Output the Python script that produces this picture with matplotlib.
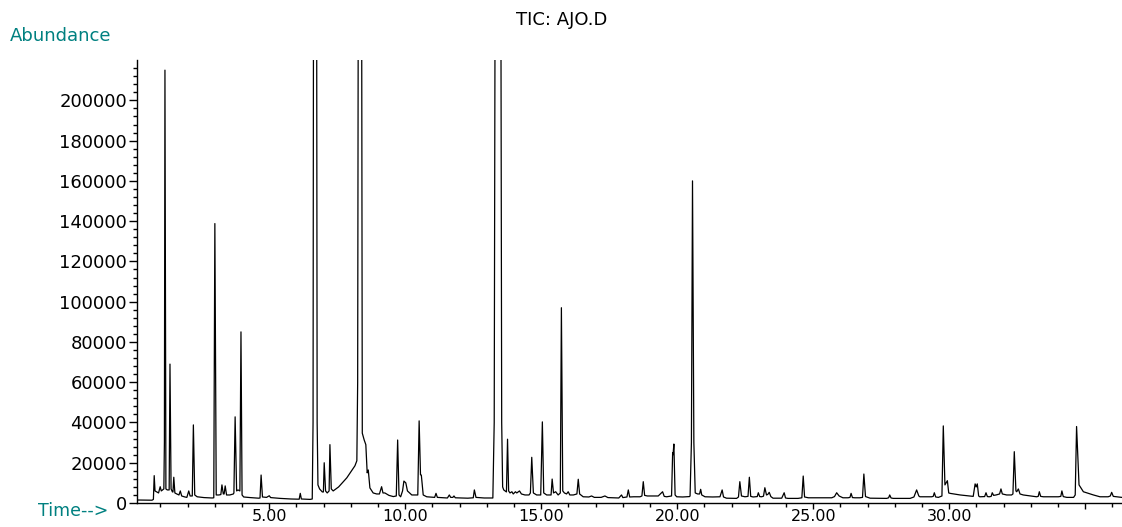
import numpy as np
import matplotlib
matplotlib.use("Agg")
import matplotlib.pyplot as plt
from matplotlib.ticker import FixedLocator

# TIC trace: retention time (min) and abundance
time_min = [
    0.125, 0.69, 0.74, 0.77, 0.80, 0.85, 0.93, 0.99, 1.03, 1.08,
    1.125, 1.145, 1.165, 1.20, 1.25, 1.32, 1.35, 1.39, 1.44, 1.46, 1.49, 1.53,
    1.60, 1.68, 1.73, 1.78, 1.90, 1.97, 2.04, 2.09, 2.17, 2.21, 2.26, 2.35, 2.60, 2.90, 2.96,
    3.00, 3.05, 3.15, 3.22, 3.26, 3.31, 3.34, 3.38, 3.43, 3.55, 3.68, 3.70, 3.745, 3.80, 3.85,
    3.92, 3.96, 4.00, 4.06, 4.30, 4.61, 4.66, 4.70, 4.75, 4.90, 5.00, 5.05, 5.40, 5.80,
    6.10, 6.14, 6.18, 6.50, 6.58,
    6.61, 6.625, 6.685, 6.745, 6.76, 6.79, 6.85, 6.95, 6.99, 7.02, 7.07, 7.13, 7.20, 7.23,
    7.28, 7.35, 7.45, 7.55, 7.65, 7.75, 7.85, 7.95, 8.05, 8.15, 8.22,
    8.25, 8.27, 8.335, 8.40, 8.415, 8.42, 8.49, 8.55, 8.60, 8.64, 8.70, 8.82, 8.95, 9.05,
    9.13, 9.18, 9.25, 9.40, 9.56, 9.67, 9.72, 9.77, 9.83, 9.90, 9.95, 10.02, 10.08, 10.24,
    10.46, 10.51, 10.56, 10.59, 10.66, 10.79, 11.08, 11.13, 11.18, 11.55, 11.62, 11.67,
    11.75, 11.79, 11.84, 12.30, 12.50, 12.54, 12.60, 12.90, 13.20,
    13.22, 13.27, 13.30, 13.41, 13.52, 13.545, 13.58,
    13.62, 13.72, 13.76, 13.80, 13.85, 13.92, 13.97, 14.05, 14.10, 14.20, 14.27, 14.40, 14.55,
    14.60, 14.65, 14.71, 14.83, 14.98, 15.04, 15.09, 15.20, 15.36, 15.40, 15.45, 15.53,
    15.62, 15.70, 15.74, 15.79, 15.85, 15.93, 15.99, 16.05, 16.18, 16.31, 16.36, 16.41,
    16.54, 16.75, 16.85, 16.95, 17.20, 17.34, 17.45, 17.85, 17.95, 18.00, 18.15, 18.20,
    18.25, 18.40, 18.63, 18.70, 18.75, 18.80, 18.90, 19.30, 19.46, 19.52, 19.61, 19.79,
    19.83, 19.845, 19.875, 19.92, 19.98, 20.20, 20.45, 20.47, 20.52, 20.56, 20.61, 20.66,
    20.75, 20.82, 20.86, 20.90, 21.02, 21.30, 21.57, 21.65, 21.70, 21.81, 22.18, 22.25,
    22.30, 22.36, 22.49, 22.60, 22.65, 22.70, 22.79, 22.94, 22.98, 23.03, 23.10, 23.17,
    23.22, 23.28, 23.33, 23.38, 23.44, 23.52, 23.84, 23.93, 23.98, 24.07, 24.44, 24.58,
    24.63, 24.68, 24.82, 25.30, 25.68, 25.78, 25.86, 25.95, 26.09, 26.28, 26.35, 26.39,
    26.44, 26.53, 26.71, 26.81, 26.86, 26.92, 27.09, 27.70, 27.77, 27.81, 27.86, 27.94,
    28.56, 28.70, 28.80, 28.88, 28.92, 29.35, 29.41, 29.45, 29.50, 29.60, 29.73, 29.78,
    29.84, 29.93, 29.98, 30.03, 30.40, 30.88, 30.95, 30.99, 31.03, 31.08, 31.12, 31.30,
    31.35, 31.40, 31.47, 31.54, 31.58, 31.63, 31.72, 31.85, 31.90, 31.95, 32.11, 32.29,
    32.34, 32.39, 32.45, 32.48, 32.54, 32.60, 32.72, 33.21, 33.27, 33.31, 33.36, 33.46,
    34.01, 34.10, 34.14, 34.19, 34.32, 34.57, 34.63, 34.68, 34.77, 34.93, 35.30, 35.54,
    35.84, 35.92, 35.97, 36.03, 36.15, 36.34,
]
abundance = [
    1500, 1400, 1800, 13600, 6000, 5600, 5000, 8100, 6000, 6500,
    7000, 30000, 215000, 7000, 6500, 6500, 69000, 7000, 5500, 5500, 12800, 5000,
    4500, 4000, 6000, 3500, 3000, 2800, 6000, 3500, 3500, 38800, 4000, 3100, 2700, 2500, 2600,
    138800, 4000, 4000, 4200, 9000, 4500, 4500, 8500, 4000, 4000, 4500, 5000, 42800, 6000, 6500,
    6000, 85000, 4000, 3000, 2700, 2400, 2500, 13900, 3000, 2800, 3600, 2700, 2300, 2000,
    1900, 4800, 2000, 1800, 2000,
    40000, 220000, 2000000, 220000, 40000, 9000, 7000, 5500, 5500, 20000, 6000, 5000, 6000, 29000,
    7000, 6000, 7000, 8000, 9500, 11000, 12500, 14500, 16500, 18500, 21000,
    60000, 220000, 2000000, 220000, 60000, 34700, 31300, 29000, 15000, 16400, 7500, 5000, 4500, 4500,
    8100, 5000, 5000, 3800, 3200, 3500, 31300, 4000, 3100, 6000, 10900, 10000, 6000, 4000,
    4000, 40800, 14000, 13900, 4000, 3100, 2800, 4800, 2800, 2500, 4000, 2800,
    2800, 3500, 2600, 2400, 2600, 6500, 2800, 2500, 2500,
    2500, 40000, 220000, 2500000, 220000, 40000, 8000,
    6500, 5500, 31700, 6000, 5000, 5600, 4500, 5600, 5000, 6000, 4500, 4000, 4000,
    5000, 22700, 5000, 4000, 4000, 40300, 5000, 4000, 4000, 11900, 5000, 5600,
    4000, 5000, 97000, 6000, 5000, 4500, 5600, 4000, 4000, 4500, 11800, 4500,
    3100, 3000, 3500, 2800, 2800, 3500, 2700, 2500, 4000, 2700, 3000, 6500,
    3000, 3100, 3100, 3500, 10600, 3800, 3500, 3500, 5600, 3300, 3100, 3500,
    25000, 24000, 29300, 4000, 3100, 3000, 3200, 3500, 30000, 160000, 30000, 5000,
    4500, 4500, 6800, 4000, 3100, 3000, 3100, 6500, 3000, 2400, 2300, 3000,
    10600, 3500, 3100, 3300, 12800, 3300, 3000, 3200, 5100, 3200, 3100, 3400,
    7600, 4000, 4300, 5300, 3200, 2400, 2400, 5100, 2500, 2300, 2300, 2600,
    13400, 3000, 2600, 2600, 2600, 3200, 5100, 3500, 2600, 2600, 2800, 4800,
    2700, 2600, 2600, 2800, 14400, 3200, 2400, 2300, 2600, 4000, 2500, 2300,
    2300, 3000, 6500, 3500, 3100, 3100, 3300, 5100, 3000, 2800, 3500, 38300,
    9000, 11100, 5000, 4800, 4000, 3300, 9500, 8000, 9500, 3500, 3100, 3200,
    5100, 3200, 3100, 3300, 5100, 3800, 4000, 4500, 7000, 4500, 4000, 4000,
    4500, 25500, 6000, 5600, 7000, 4500, 4000, 3100, 3300, 5600, 3300, 3100,
    3100, 3300, 6000, 3200, 2800, 2800, 4000, 38000, 9000, 5600, 4000, 3100,
    3100, 3500, 5300, 3300, 3100, 2800,
]

y_major = list(range(0, 200001, 20000))
y_minor = list(range(0, 216001, 4000))
x_major = [5, 10, 15, 20, 25, 30, 35]
x_major_labels = ["5.00", "10.00", "15.00", "20.00", "25.00", "30.00", ""]
x_minor = list(range(1, 37))

teal = "#008080"
plt.rcParams["font.family"] = ["DejaVu Sans"]

fig = plt.figure(figsize=(11.22, 5.27), dpi=100)
ax = fig.add_axes([0.1218, 0.0455, 0.8782, 0.8405])

ax.plot(time_min, abundance, color="black", lw=0.9)

ax.set_xlim(0.125, 36.35)
ax.set_ylim(0, 220000)
for side in ("top", "right"):
    ax.spines[side].set_visible(False)
for side in ("left", "bottom"):
    ax.spines[side].set_linewidth(1.0)

ax.yaxis.set_major_locator(FixedLocator(y_major))
ax.yaxis.set_minor_locator(FixedLocator(y_minor))
ax.set_yticklabels([str(v) for v in y_major])
ax.xaxis.set_major_locator(FixedLocator(x_major))
ax.xaxis.set_minor_locator(FixedLocator(x_minor))
ax.set_xticklabels(x_major_labels)

ax.tick_params(axis="y", which="major", length=6, width=1, pad=1, labelsize=13)
ax.tick_params(axis="y", which="minor", length=3, width=1)
ax.tick_params(axis="x", which="major", length=4.5, width=1, pad=0, labelsize=11.5)
ax.tick_params(axis="x", which="minor", length=3, width=1)

fig.text(0.501, 0.962, "TIC: AJO.D", ha="center", va="center", fontsize=13)
fig.text(10 / 1122, 0.9317, "Abundance", color=teal, ha="left", va="center", fontsize=13)
fig.text(38 / 1122, 0.0304, "Time-->", color=teal, ha="left", va="center", fontsize=12.5)

fig.savefig("out.png", dpi=100)
